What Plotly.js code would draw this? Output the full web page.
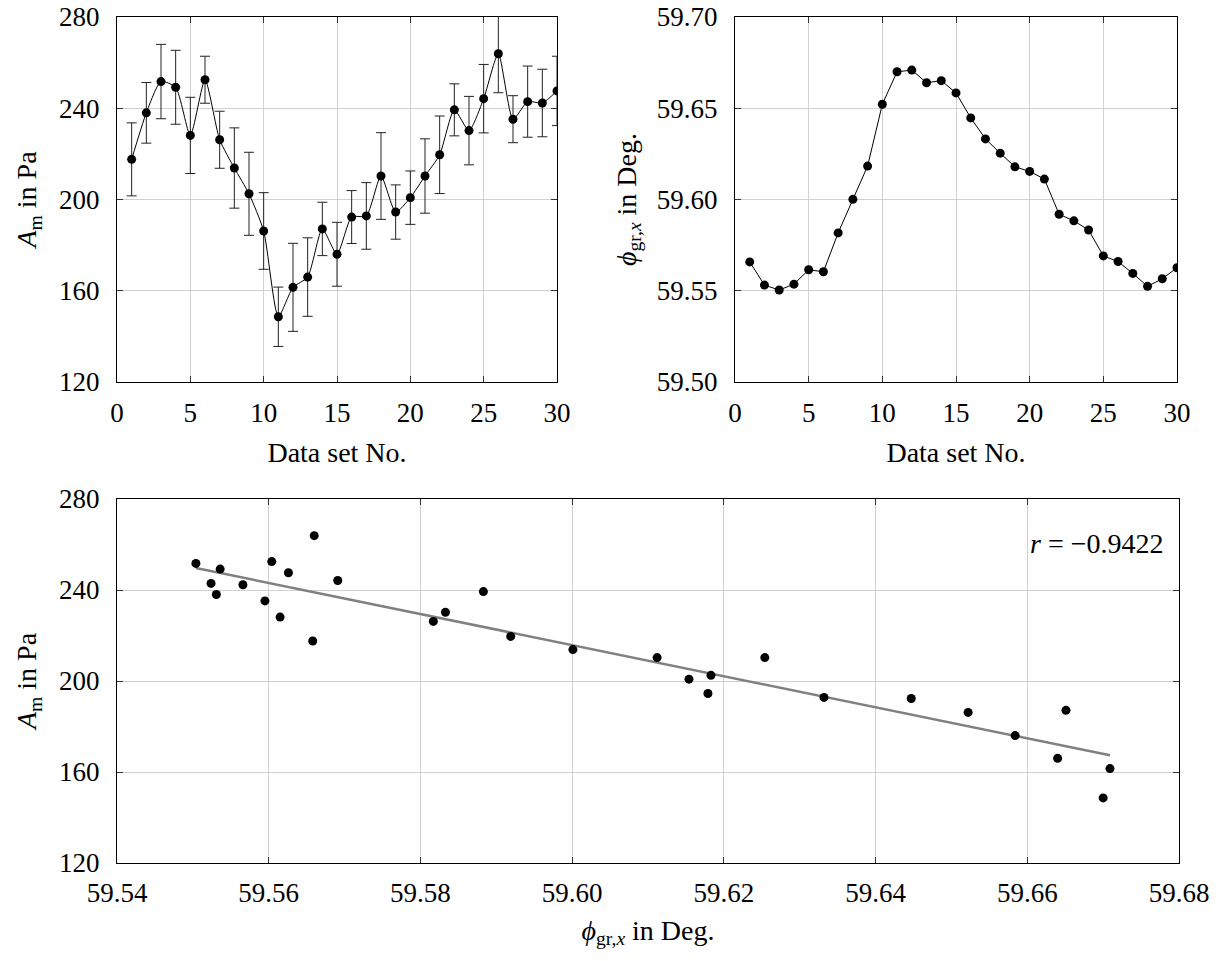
<!DOCTYPE html>
<html>
<head>
<meta charset="utf-8">
<script src="https://cdn.plot.ly/plotly-3.0.1.min.js"></script>
<style>html,body{margin:0;padding:0;background:#fff;}#chart{width:1229px;height:961px;}</style>
</head>
<body>
<div id="chart"></div>
<script>
// Data set numbers
const dataSet = [1,2,3,4,5,6,7,8,9,10,11,12,13,14,15,16,17,18,19,20,21,22,23,24,25,26,27,28,29,30];
// A_m in Pa
const am = [217.6, 238.0, 251.7, 249.2, 228.1, 252.5, 226.2, 213.8, 202.5, 186.2,
            148.6, 161.5, 166.0, 187.1, 176.0, 192.3, 192.8, 210.3, 194.5, 200.8,
            210.3, 219.6, 239.3, 230.2, 244.2, 263.9, 235.2, 242.9, 242.3, 247.6];
// error of A_m
const amErr = [16.0, 13.3, 16.3, 16.2, 16.7, 10.3, 12.5, 17.6, 18.2, 16.8,
               13.0, 19.3, 17.2, 11.7, 14.0, 11.6, 14.6, 19.0, 11.9, 11.7,
               16.3, 17.0, 11.4, 15.0, 15.0, 17.1, 10.3, 15.6, 14.8, 15.2];
// phi_gr,x in Deg.
const phi = [59.5658, 59.5531, 59.5504, 59.5536, 59.5615, 59.5604, 59.5817, 59.6001, 59.6183, 59.6522,
             59.6700, 59.6709, 59.6640, 59.6651, 59.6584, 59.6447, 59.6332, 59.6254, 59.6179, 59.6154,
             59.6112, 59.5919, 59.5883, 59.5833, 59.5691, 59.5660, 59.5595, 59.5524, 59.5566, 59.5626];
const rLabel = '<i>r</i> = \u22120.9422';

// least-squares fit of A_m against phi
const n = phi.length;
const mx = phi.reduce((a,b)=>a+b,0)/n;
const my = am.reduce((a,b)=>a+b,0)/n;
let sxy = 0, sxx = 0;
for (let i=0;i<n;i++){ sxy += (phi[i]-mx)*(am[i]-my); sxx += (phi[i]-mx)*(phi[i]-mx); }
const slope = sxy/sxx, icpt = my - slope*mx;
const fitX = [Math.min(...phi), Math.max(...phi)];
const fitY = fitX.map(x => icpt + slope*x);

const FAM = '"Liberation Serif", "DejaVu Serif", serif';
const TICKFONT = {family: FAM, size: 27, color: '#000'};
const TITLEFONT = {family: FAM, size: 28, color: '#000'};
const W = 1229, H = 961;
const px = v => v / W, py = v => 1 - v / H;

function axisBase(extra){
  return Object.assign({
    showline: true, mirror: 'ticks', linecolor: '#000', linewidth: 1,
    ticks: 'inside', ticklen: 6, tickwidth: 1, tickcolor: '#333',
    showgrid: true, gridcolor: '#d0d0d0', gridwidth: 1,
    zeroline: false, tickfont: TICKFONT, fixedrange: true, automargin: false
  }, extra);
}

const traces = [
  {
    x: dataSet, y: am, xaxis: 'x', yaxis: 'y', type: 'scatter', mode: 'lines+markers',
    line: {color: '#000', width: 1, shape: 'spline', smoothing: 0.6},
    marker: {color: '#000', size: 9},
    error_y: {type: 'data', array: amErr, visible: true, color: '#222', thickness: 1, width: 5},
    showlegend: false
  },
  {
    x: dataSet, y: phi, xaxis: 'x2', yaxis: 'y2', type: 'scatter', mode: 'lines+markers',
    line: {color: '#000', width: 1},
    marker: {color: '#000', size: 9}, showlegend: false
  },
  {
    x: fitX, y: fitY, xaxis: 'x3', yaxis: 'y3', type: 'scatter', mode: 'lines',
    line: {color: '#808080', width: 2.5}, showlegend: false
  },
  {
    x: phi, y: am, xaxis: 'x3', yaxis: 'y3', type: 'scatter', mode: 'markers',
    marker: {color: '#000', size: 9}, showlegend: false
  }
];

const layout = {
  width: W, height: H,
  margin: {l: 0, r: 0, t: 0, b: 0},
  paper_bgcolor: '#fff', plot_bgcolor: '#fff',
  font: TICKFONT, showlegend: false,
  xaxis: axisBase({domain: [px(117), px(557)], anchor: 'y', range: [0, 30], dtick: 5, tick0: 0,
    ticklabelstandoff: 7,
    title: {text: 'Data set No.', font: TITLEFONT, standoff: 14}}),
  yaxis: axisBase({domain: [py(382), py(17)], anchor: 'x', range: [120, 280], dtick: 40, tick0: 120,
    ticklabelstandoff: 11,
    title: {text: '<i>A</i><sub>m</sub> in Pa', font: TITLEFONT, standoff: 14}}),
  xaxis2: axisBase({domain: [px(735), px(1177)], anchor: 'y2', range: [0, 30], dtick: 5, tick0: 0,
    ticklabelstandoff: 7,
    title: {text: 'Data set No.', font: TITLEFONT, standoff: 14}}),
  yaxis2: axisBase({domain: [py(382), py(17)], anchor: 'x2', range: [59.5, 59.7], dtick: 0.05, tick0: 59.5,
    tickformat: '.2f', ticklabelstandoff: 11,
    title: {text: '<i>\u03D5</i><sub>gr,<i>x</i></sub> in Deg.', font: TITLEFONT, standoff: 12}}),
  xaxis3: axisBase({domain: [px(117), px(1179)], anchor: 'y3', range: [59.54, 59.68], dtick: 0.02, tick0: 59.54,
    tickformat: '.2f', ticklabelstandoff: 6,
    title: {text: '<i>\u03D5</i><sub>gr,<i>x</i></sub> in Deg.', font: TITLEFONT, standoff: 12}}),
  yaxis3: axisBase({domain: [py(863), py(499)], anchor: 'x3', range: [120, 280], dtick: 40, tick0: 120,
    ticklabelstandoff: 11,
    title: {text: '<i>A</i><sub>m</sub> in Pa', font: TITLEFONT, standoff: 14}}),
  annotations: [{
    xref: 'paper', yref: 'paper', x: px(1166), y: py(543), xanchor: 'right', yanchor: 'middle',
    text: rLabel, showarrow: false, font: TITLEFONT
  }]
};

Plotly.newPlot('chart', traces, layout, {staticPlot: true, displayModeBar: false});
</script>
</body>
</html>
